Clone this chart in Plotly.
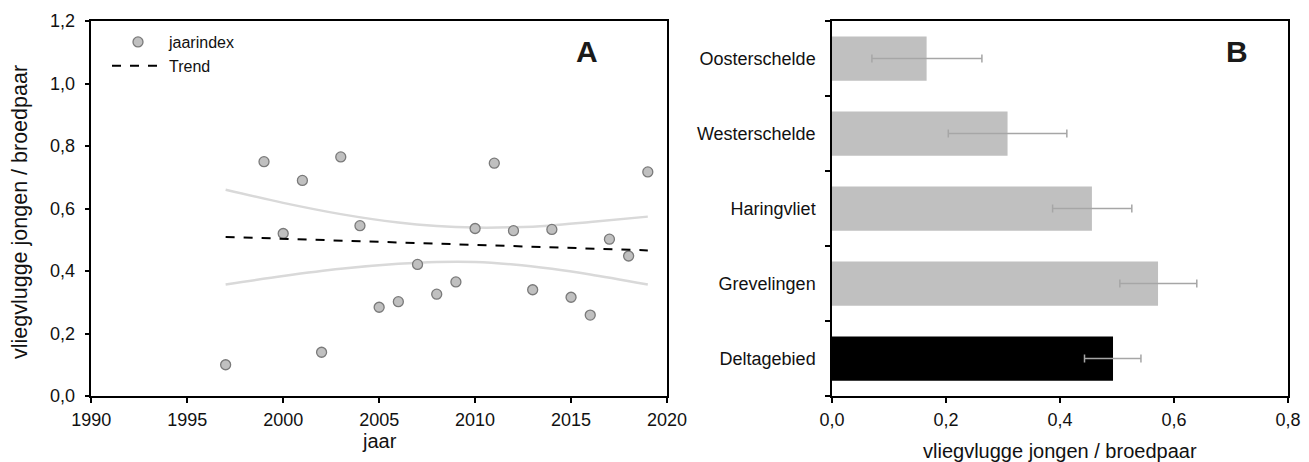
import plotly.graph_objects as go

# ---- Panel A data ----
years = [1997, 1999, 2000, 2001, 2002, 2003, 2004, 2005, 2006, 2007, 2008, 2009,
         2010, 2011, 2012, 2013, 2014, 2015, 2016, 2017, 2018, 2019]
jaarindex = [0.10, 0.75, 0.52, 0.69, 0.14, 0.765, 0.545, 0.284, 0.302, 0.421, 0.326, 0.365,
             0.536, 0.745, 0.529, 0.340, 0.533, 0.316, 0.259, 0.502, 0.448, 0.717]
trend_years = [1997, 2019]
trend_vals = [0.509, 0.466]
ci_years = [1997, 2000, 2003, 2006, 2008, 2010, 2012, 2014, 2016, 2019]
ci_upper = [0.660, 0.618, 0.582, 0.555, 0.544, 0.539, 0.540, 0.546, 0.557, 0.574]
ci_lower = [0.357, 0.384, 0.407, 0.423, 0.429, 0.429, 0.421, 0.407, 0.389, 0.357]

# ---- Panel B data ----
gebieden = ["Deltagebied", "Grevelingen", "Haringvliet", "Westerschelde", "Oosterschelde"]
gem = [0.493, 0.572, 0.456, 0.308, 0.166]
ci_lo_b = [0.443, 0.505, 0.387, 0.204, 0.070]
ci_hi_b = [0.542, 0.640, 0.526, 0.412, 0.263]
bar_colors = ["#000000", "#c0c0c0", "#c0c0c0", "#c0c0c0", "#c0c0c0"]

FONT = "Liberation Sans, Arial, sans-serif"
CI_COLOR = "#d9d9d9"

fig = go.Figure()

fig.add_trace(go.Scatter(x=ci_years, y=ci_upper, mode="lines",
                         line=dict(color=CI_COLOR, width=2.5, shape="spline", smoothing=0.8),
                         showlegend=False, xaxis="x", yaxis="y", hoverinfo="skip"))
fig.add_trace(go.Scatter(x=ci_years, y=ci_lower, mode="lines",
                         line=dict(color=CI_COLOR, width=2.5, shape="spline", smoothing=0.8),
                         showlegend=False, xaxis="x", yaxis="y", hoverinfo="skip"))
fig.add_trace(go.Scatter(x=years, y=jaarindex, mode="markers", name="jaarindex",
                         marker=dict(size=10, color="#c0c0c0", line=dict(color="#7a7a7a", width=1.3)),
                         xaxis="x", yaxis="y"))
fig.add_trace(go.Scatter(x=trend_years, y=trend_vals, mode="lines", name="Trend",
                         line=dict(color="black", width=2, dash="dash"), xaxis="x", yaxis="y"))

err_plus = [h - v for h, v in zip(ci_hi_b, gem)]
err_minus = [v - l for v, l in zip(gem, ci_lo_b)]
fig.add_trace(go.Bar(y=gebieden, x=gem, orientation="h", marker=dict(color=bar_colors, line=dict(width=0)),
                     width=0.59, showlegend=False, xaxis="x2", yaxis="y2",
                     error_x=dict(type="data", array=err_plus, arrayminus=err_minus, color="#a6a6a6",
                                  thickness=1.5, width=4)))

W, H = 1309, 462
OFF = 8  # page body margin offset (px) in the browser


def px(v):
    return (v - OFF) / W


def py(v):
    return 1 - (v - OFF) / H


ax_common = dict(showline=True, linecolor="black", linewidth=1.5, mirror=True, ticks="outside",
                 ticklen=5, tickwidth=1.5, tickcolor="black", showgrid=False, zeroline=False,
                 automargin=False, tickfont=dict(family=FONT, size=18, color="#111111"))
y0, y1 = py(396), py(21)

fig.update_layout(
    width=W, height=H, margin=dict(l=0, r=0, t=0, b=0, pad=0, autoexpand=False),
    paper_bgcolor="white", plot_bgcolor="white",
    separators=",.",
    font=dict(family=FONT, size=18, color="#111111"),
    xaxis=dict(domain=[px(91.3), px(667)], range=[1990, 2020], dtick=5, anchor="y",
               ticklabelstandoff=2, **ax_common),
    yaxis=dict(domain=[y0, y1], range=[0, 1.2], dtick=0.2, tickformat=".1f", anchor="x",
               ticklabelstandoff=6, **ax_common),
    xaxis2=dict(domain=[px(832), px(1288)], range=[0, 0.8], dtick=0.2, tickformat=".1f", anchor="y2",
                ticklabelstandoff=2, **ax_common),
    yaxis2=dict(domain=[y0, y1], anchor="x2", tickson="boundaries", ticklabelstandoff=11, **ax_common),
    legend=dict(x=px(107), y=py(25), xanchor="left", yanchor="top", bgcolor="rgba(0,0,0,0)",
                font=dict(family=FONT, size=16, color="#111111"), itemwidth=52, tracegroupgap=0),
    bargap=0.41,
)

annots = [
    dict(text="jaar", x=px((91.3 + 667) / 2), y=py(441), xref="paper", yref="paper",
         showarrow=False, font=dict(size=20), xanchor="center", yanchor="middle"),
    dict(text="vliegvlugge jongen / broedpaar", x=px(20), y=py(212), xref="paper", yref="paper",
         showarrow=False, textangle=-90, font=dict(size=21.5), xanchor="center", yanchor="middle"),
    dict(text="vliegvlugge jongen / broedpaar", x=px((832 + 1288) / 2), y=py(451), xref="paper", yref="paper",
         showarrow=False, font=dict(size=20), xanchor="center", yanchor="middle"),
    dict(text="<b>A</b>", x=px(587), y=py(51), xref="paper", yref="paper", showarrow=False,
         font=dict(size=30, family=FONT, color="#1a1a1a"), xanchor="center", yanchor="middle"),
    dict(text="<b>B</b>", x=px(1237), y=py(51), xref="paper", yref="paper", showarrow=False,
         font=dict(size=30, family=FONT, color="#1a1a1a"), xanchor="center", yanchor="middle"),
]
fig.update_layout(annotations=annots)

fig.write_html("out.html")
